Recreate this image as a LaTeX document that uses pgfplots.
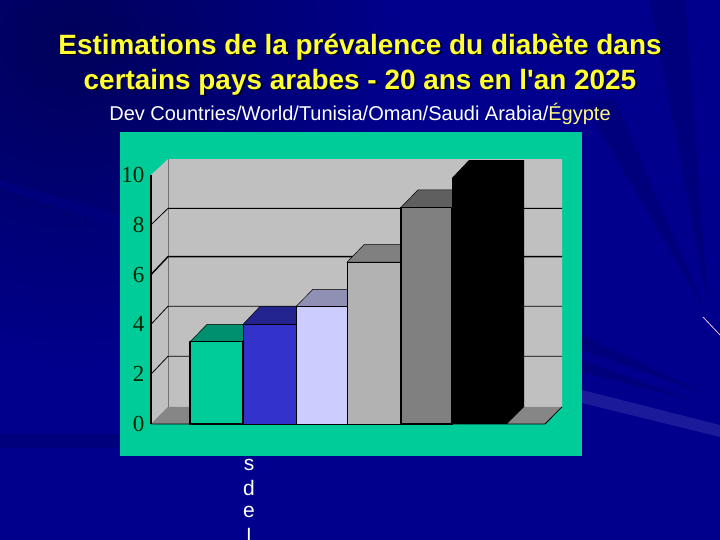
\documentclass[border=0pt]{standalone}
\usepackage{fontspec}
\setmainfont{Liberation Sans}
\newfontfamily\tickfont{Liberation Serif}
\usepackage{pgfplots}
\pgfplotsset{compat=1.18}
\definecolor{slide}{HTML}{00008C}
\definecolor{slidedark}{HTML}{00005A}
\definecolor{slidestreak}{HTML}{00007C}
\definecolor{slidelight}{HTML}{1A1A9A}
\definecolor{panel}{HTML}{00CC99}
\definecolor{wall}{HTML}{C0C0C0}
\definecolor{floorgrey}{HTML}{868686}
\definecolor{titleyellow}{HTML}{FFFF33}
\definecolor{bargreen}{HTML}{00CC99}
\definecolor{bargreentop}{HTML}{009070}
\definecolor{barblue}{HTML}{3333CC}
\definecolor{barbluetop}{HTML}{242490}
\definecolor{barlav}{HTML}{CCCCFF}
\definecolor{barlavtop}{HTML}{9090B4}
\definecolor{barlgrey}{HTML}{B2B2B2}
\definecolor{barlgreytop}{HTML}{808080}
\definecolor{bardgrey}{HTML}{808080}
\definecolor{bardgreytop}{HTML}{5F5F5F}
\newcommand{\titleline}[2]{%
  \node[font=\bfseries\fontsize{27.9}{30}\selectfont,text=black] at (361.5,#1-1.5) {#2};
  \node[font=\bfseries\fontsize{27.9}{30}\selectfont,text=titleyellow] at (360,#1) {#2};}
\begin{document}
\begin{tikzpicture}[x=1pt,y=1pt]
% slide background, y measured from the bottom
\useasboundingbox (0,0) rectangle (720,540);
\clip (0,0) rectangle (720,540);
\fill[slide] (0,0) rectangle (720,540);
\shade[inner color=slidedark,outer color=slide] (70,500) circle (330);
\fill[slidestreak] (0,360) -- (120,325) -- (120,312) -- (0,352) -- cycle;
\fill[slidestreak] (0,106) -- (120,106) -- (120,92) -- (0,92) -- cycle;
\fill[slidestreak] (650,540) -- (685,540) -- (708,235) -- cycle;
\fill[slidestreak] (582,440) -- (615,440) -- (705,230) -- cycle;
\fill[slidestreak] (582,205) -- (703,147) -- (582,190) -- cycle;
\fill[slidestreak] (582,180) -- (690,140) -- (582,168) -- cycle;
\fill[slidelight] (582,150) -- (582,137) -- (720,103) -- (720,115) -- cycle;
\draw[white!75!magenta,line width=0.8pt] (703,223) -- (720,205);

\titleline{493}{Estimations de la prévalence du diabète dans}
\titleline{458}{certains pays arabes - 20 ans en l\textquotesingle an 2025}
\node[font=\fontsize{20}{22}\selectfont,text=white] at (360,426.5) {Dev Countries/World/Tunisia/Oman/Saudi Arabia/\textcolor{yellow!50!white}{Égypte}};

\begin{axis}[
    at={(120pt,84pt)},anchor=south west,
    scale only axis,width=462pt,height=324pt,
    xmin=120,xmax=582,ymin=-1.285,ymax=11.727,
    axis background/.style={fill=panel},
    axis line style={draw=none},
    xtick=\empty,
    ytick={0,2,4,6,8,10},
    major tick length=0pt,
    /pgf/number format/assume math mode=true,
    yticklabel style={font=\tickfont\fontsize{23}{23}\selectfont,text=black!85!green,anchor=east,xshift=28pt},
]
% walls and floor
\addplot[fill=wall,draw=none] coordinates {(151,0)(151,10)(168,10.64)(562,10.64)(562,0.69)(545,0)} -- cycle;
\addplot[fill=floorgrey,draw=none] coordinates {(151,0)(168,0.69)(562,0.69)(545,0)} -- cycle;
\addplot[draw=black!55,line width=0.8pt] coordinates {(168,0.69)(168,10.64)};
% gridlines
\addplot[black,line width=0.8pt] coordinates {(151,2)(168,2.72)(562,2.72)};
\addplot[black,line width=0.8pt] coordinates {(151,4)(168,4.73)(562,4.73)};
\addplot[black,line width=1.4pt] coordinates {(151,6)(168,6.72)(562,6.72)};
\addplot[black,line width=0.8pt] coordinates {(151,8)(168,8.66)(562,8.66)};
% front edges
\addplot[black,line width=1.8pt] coordinates {(151,0)(151,10)};
\addplot[black,line width=0.8pt] coordinates {(151,0)(545,0)(562,0.69)};
% bars, left to right
\addplot[fill=bargreentop,draw=black,line width=0.5pt] coordinates {(190,3.3)(207,4.0)(260,4.0)(243,3.3)} -- cycle;
\addplot[fill=bargreen,draw=black,line width=1.2pt] coordinates {(190,0)(190,3.3)(243,3.3)(243,0)} -- cycle;
\addplot[fill=barbluetop,draw=black,line width=0.5pt] coordinates {(243,4.0)(260,4.72)(313,4.72)(296,4.0)} -- cycle;
\addplot[fill=barblue,draw=black,line width=0.8pt] coordinates {(243,0)(243,4.0)(296,4.0)(296,0)} -- cycle;
\addplot[fill=barlavtop,draw=black,line width=0.5pt] coordinates {(296,4.72)(313,5.41)(364,5.41)(347,4.72)} -- cycle;
\addplot[fill=barlav,draw=black,line width=0.8pt] coordinates {(296,0)(296,4.72)(347,4.72)(347,0)} -- cycle;
\addplot[fill=barlgreytop,draw=black,line width=0.5pt] coordinates {(347,6.5)(364,7.2)(418,7.2)(401,6.5)} -- cycle;
\addplot[fill=barlgrey,draw=black,line width=0.8pt] coordinates {(347,0)(347,6.5)(401,6.5)(401,0)} -- cycle;
\addplot[fill=bardgreytop,draw=black,line width=0.5pt] coordinates {(401,8.7)(418,9.4)(469,9.4)(452,8.7)} -- cycle;
\addplot[fill=bardgrey,draw=black,line width=1.2pt] coordinates {(401,0)(401,8.7)(452,8.7)(452,0)} -- cycle;
\addplot[fill=black,draw=none] coordinates {(452,0)(452,9.88)(469,10.6)(524,10.6)(524,0.69)(507,0)} -- cycle;
\end{axis}

\foreach \c/\y in {s/75,d/52,e/28,l/4}
  \node[font=\fontsize{21}{21}\selectfont,text=white] at (249,\y) {\c};
\end{tikzpicture}
\end{document}
